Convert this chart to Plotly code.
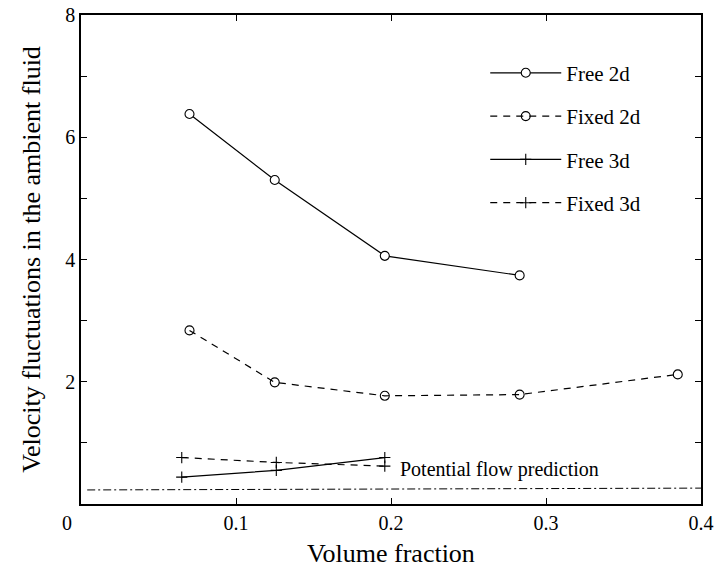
import plotly.graph_objects as go

# ---- data ----
free2d_x = [0.070, 0.125, 0.196, 0.283]
free2d_y = [6.38, 5.30, 4.06, 3.74]

fixed2d_x = [0.070, 0.125, 0.196, 0.283, 0.385]
fixed2d_y = [2.84, 1.99, 1.77, 1.79, 2.12]

free3d_x = [0.065, 0.126, 0.196]
free3d_y = [0.44, 0.55, 0.76]

fixed3d_x = [0.065, 0.126, 0.196]
fixed3d_y = [0.76, 0.68, 0.62]

potential_x = [0.004, 0.400]
potential_y = [0.23, 0.26]

x_tickvals = [0.1, 0.2, 0.3, 0.4]
x_ticktext = ["0.1", "0.2", "0.3", "0.4"]
y_tickvals = [2, 4, 6, 8]
y_ticktext = ["2", "4", "6", "8"]

FONT = "Liberation Serif"
BLACK = "#000000"

fig = go.Figure()

fig.add_trace(go.Scatter(
    x=free2d_x, y=free2d_y, mode="lines+markers", name="Free 2d",
    legendgroup="a",
    line=dict(color=BLACK, width=1.2),
    marker=dict(symbol="circle", size=9, color="white",
                line=dict(color=BLACK, width=1.1)),
))
fig.add_trace(go.Scatter(
    x=fixed2d_x, y=fixed2d_y, mode="lines+markers", name="Fixed 2d",
    legendgroup="b",
    line=dict(color=BLACK, width=1.2, dash="7px,6px"),
    marker=dict(symbol="circle-open", size=9, color=BLACK,
                line=dict(color=BLACK, width=1.1)),
))
fig.add_trace(go.Scatter(
    x=free3d_x, y=free3d_y, mode="lines+markers", name="Free 3d",
    legendgroup="c",
    line=dict(color=BLACK, width=1.2),
    marker=dict(symbol="cross-thin", size=8, color=BLACK,
                line=dict(color=BLACK, width=1.1)),
))
fig.add_trace(go.Scatter(
    x=fixed3d_x, y=fixed3d_y, mode="lines+markers", name="Fixed 3d",
    legendgroup="d",
    line=dict(color=BLACK, width=1.2, dash="7px,6px"),
    marker=dict(symbol="cross-thin", size=8, color=BLACK,
                line=dict(color=BLACK, width=1.1)),
))
fig.add_trace(go.Scatter(
    x=potential_x, y=potential_y, mode="lines", name="Potential flow prediction",
    showlegend=False,
    line=dict(color=BLACK, width=1.0, dash="8px,3px,2px,3px"),
))

fig.add_annotation(
    x=0.2045, y=0.57, xref="x", yref="y", text="Potential flow prediction",
    showarrow=False, xanchor="left", yanchor="middle",
    font=dict(family=FONT, size=20, color=BLACK),
)
# corner "0" label of the x axis (sits left of the frame in the reference)
fig.add_annotation(
    x=0, y=0, xref="x", yref="y", text="0", showarrow=False,
    xanchor="center", yanchor="top", xshift=-14, yshift=-6,
    font=dict(family=FONT, size=20, color=BLACK),
)

axis_common = dict(
    showgrid=False, zeroline=False, showline=True, linecolor=BLACK,
    linewidth=1.5, mirror="ticks", ticks="inside", ticklen=6,
    tickcolor=BLACK, tickwidth=1, automargin=False,
    tickfont=dict(family=FONT, size=20, color=BLACK),
)

fig.update_xaxes(
    range=[0, 0.4], tickvals=x_tickvals, ticktext=x_ticktext,
    title=dict(text="Volume fraction", font=dict(family=FONT, size=26, color=BLACK),
               standoff=14),
    **axis_common,
)
fig.update_yaxes(
    range=[0, 8], tickvals=y_tickvals, ticktext=y_ticktext,
    minor=dict(dtick=1, ticks="inside", ticklen=6, tickcolor=BLACK, tickwidth=1),
    title=dict(text="Velocity fluctuations in the ambient fluid",
               font=dict(family=FONT, size=26, color=BLACK), standoff=17),
    **axis_common,
)

fig.update_layout(
    width=716, height=568,
    margin=dict(l=81, r=15, t=15, b=64, autoexpand=False),
    paper_bgcolor="white", plot_bgcolor="white",
    font=dict(family=FONT, color=BLACK),
    legend=dict(
        x=0.652, y=0.923, xanchor="left", yanchor="top",
        bgcolor="rgba(0,0,0,0)", borderwidth=0,
        font=dict(family=FONT, size=21, color=BLACK),
        tracegroupgap=13, itemwidth=71,
    ),
)

fig.write_html("out.html")
